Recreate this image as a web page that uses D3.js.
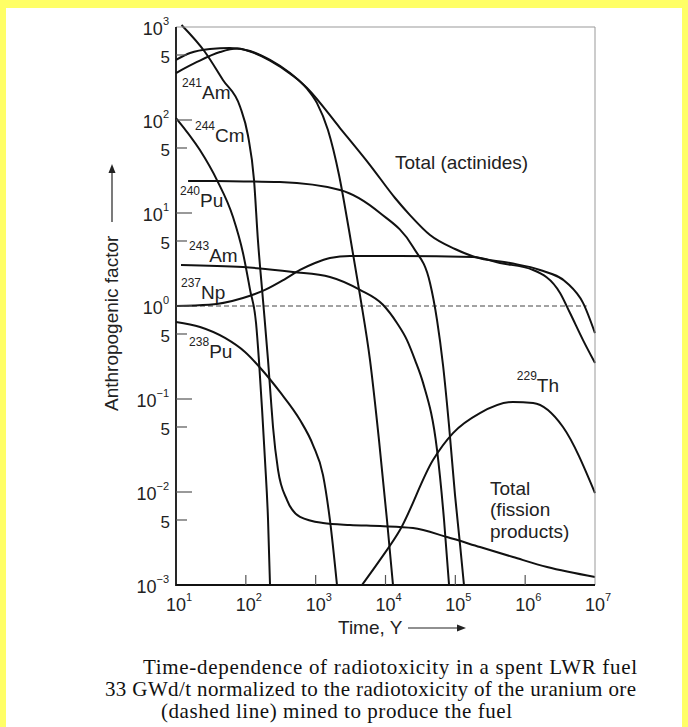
<!DOCTYPE html>
<html>
<head>
<meta charset="utf-8">
<script src="https://cdn.jsdelivr.net/npm/d3@7"></script>
<style>
html, body { margin: 0; padding: 0; background: #ffff66; }
svg { display: block; }
</style>
</head>
<body>
<svg width="688" height="727"></svg>
<script>
// curves: [time in years, anthropogenic factor]
var fissionTotal = [[12, 1050], [26, 538], [47, 269], [83, 138], [107, 69], [131, 22.6], [149, 5.1],
    [176, 1.16], [208, 0.26], [229, 0.097], [245, 0.05], [289, 0.0173], [389, 0.0082], [597, 0.0054],
    [1274, 0.00464], [3100, 0.00442], [8340, 0.0043], [24800, 0.0041], [76000, 0.00328],
    [225000, 0.00256], [670000, 0.002], [2.06e6, 0.00156], [1e7, 0.00122]];
var actinideTotal = [[10, 442], [15.9, 525], [30.7, 580], [59, 594], [115, 552], [222, 442], [430, 320],
    [752, 221], [2230, 82], [6000, 32.8], [13700, 14.5], [22400, 9.5], [43400, 5.8], [98900, 4.1],
    [191000, 3.36], [607000, 2.9], [1.63e6, 2.44], [3.97e6, 1.77], [6.74e6, 1.08], [1e7, 0.51]];
var am241 = [[10, 320], [20, 421], [42.7, 538], [75, 586], [115, 545], [222, 436], [430, 315],
    [752, 217], [1045, 152], [1500, 78], [2160, 25.6], [3000, 6.56], [4310, 1.31], [6000, 0.262],
    [8070, 0.0362], [10500, 0.005], [12800, 0.001]];
var cm244 = [[10, 105], [22, 47.5], [38.6, 22.6], [65.5, 9.06], [91, 3.72], [115, 1.49], [140, 0.656],
    [154, 0.262], [171, 0.076], [188, 0.0221], [208, 0.005], [222, 0.001]];
var pu240 = [[14.9, 22.1], [60, 22], [308, 21.5], [2230, 17.7], [8340, 10], [24800, 4.3], [43400, 1.77],
    [54700, 0.706], [66600, 0.232], [81100, 0.0525], [98900, 0.0093], [117000, 0.00269], [133000, 0.001]];
var am243 = [[11.8, 2.76], [91, 2.62], [474, 2.32], [1600, 2.05], [4310, 1.49], [9200, 1.03],
    [14600, 0.656], [20300, 0.43], [26500, 0.262], [34500, 0.149], [54700, 0.0283], [68900, 0.005],
    [81300, 0.001]];
var np237 = [[10, 1.0], [29.7, 1.03], [91, 1.22], [188, 1.49], [364, 1.95], [597, 2.44], [979, 2.9],
    [1600, 3.28], [3100, 3.45], [16100, 3.45], [179000, 3.36], [436000, 2.9], [1.3e6, 2.44],
    [3.16e6, 1.38], [4.39e6, 0.84], [6.74e6, 0.43], [1e7, 0.244]];
var pu238 = [[10, 0.673], [22.1, 0.594], [50.3, 0.453], [97.3, 0.32], [171, 0.205], [308, 0.119],
    [597, 0.0594], [916, 0.032], [1274, 0.0152], [1600, 0.005], [2020, 0.001]];
var th229 = [[4610, 0.001], [8340, 0.00186], [16100, 0.0039], [47900, 0.0221], [92600, 0.043],
    [225000, 0.0706], [670000, 0.093], [1.3e6, 0.0906], [3.48e6, 0.05], [1e7, 0.00975]];
var oreLevel = [[10, 1], [7.6e6, 1]];

var yDecades = [-3, -2, -1, 0, 1, 2, 3];
var yFives = [5e-3, 5e-2, 5e-1, 5, 50, 500];
var xDecades = [1, 2, 3, 4, 5, 6, 7];
var xTickValues = [1e2, 1e3, 1e4, 1e5, 1e6];

// annotation anchors in data space [time, value]
var isotopeLabels = [
    { mass: "241", name: "Am", at: [12.2, 168] },
    { mass: "244", name: "Cm", at: [18.7, 58] },
    { mass: "240", name: "Pu", at: [11.4, 11.6] },
    { mass: "243", name: "Am", at: [15.4, 2.97] },
    { mass: "237", name: "Np", at: [11.8, 1.19] },
    { mass: "238", name: "Pu", at: [15.4, 0.276] },
    { mass: "229", name: "Th", at: [7.6e5, 0.119] }
];
var actinideLabel = { text: "Total (actinides)", at: [13700, 29.7] };
var fissionLabel = { lines: ["Total", "(fission", "products)"], at: [314000, 0.0093] };
var captionLines = [
    "Time-dependence of radiotoxicity in a spent LWR fuel",
    "33 GWd/t normalized to the radiotoxicity of the uranium ore",
    "(dashed line) mined to produce the fuel"
];

var chart = (function() {
    'use strict';

    var svg = d3.select("svg");
    var x = d3.scaleLog().domain([1e1, 1e7]).range([176, 595]);
    var y = d3.scaleLog().domain([1e-3, 1e3]).range([585, 27]);
    var sans = "'Liberation Sans', Arial, sans-serif";

    var drawBackground = function() {
        svg.append("rect").attr("width", 688).attr("height", 727).attr("fill", "#ffff66");
        svg.append("rect").attr("x", 6).attr("y", 8).attr("width", 676).attr("height", 719)
            .attr("fill", "#fff");
    };

    var drawFrame = function() {
        var g = svg.append("g").attr("class", "frame");
        g.append("path")
            .attr("d", "M" + x(1e1) + "," + y(1e3) + "H" + x(1e7) + "V" + y(1e-3))
            .attr("fill", "none").attr("stroke", "#999").attr("stroke-width", 1);
        g.append("path")
            .attr("d", "M" + x(1e1) + "," + y(1e3) + "V" + y(1e-3) + "H" + x(1e7))
            .attr("fill", "none").attr("stroke", "#111").attr("stroke-width", 1.8);

        g.selectAll(".ymajor").data(yDecades.slice(1, -1)).enter().append("line")
            .attr("x1", x(1e1)).attr("x2", x(1e1) + 16)
            .attr("y1", function(d) { return y(Math.pow(10, d)); })
            .attr("y2", function(d) { return y(Math.pow(10, d)); })
            .attr("stroke", "#555").attr("stroke-width", 1.2);
        g.selectAll(".yminor").data(yFives).enter().append("line")
            .attr("x1", x(1e1)).attr("x2", x(1e1) + 11)
            .attr("y1", function(d) { return y(d); })
            .attr("y2", function(d) { return y(d); })
            .attr("stroke", "#555").attr("stroke-width", 1.2);
        g.selectAll(".xtick").data(xTickValues).enter().append("line")
            .attr("x1", function(d) { return x(d); })
            .attr("x2", function(d) { return x(d); })
            .attr("y1", y(1e-3)).attr("y2", y(1e-3) - 10)
            .attr("stroke", "#555").attr("stroke-width", 1.2);
    };

    var powerLabel = function(sel, exp) {
        sel.append("tspan").text("10");
        sel.append("tspan").attr("font-size", 11).attr("dy", -10)
            .text(exp < 0 ? "\u2212" + (-exp) : exp);
    };

    var drawTickLabels = function() {
        var g = svg.append("g").attr("font-family", sans).attr("font-size", 18).attr("fill", "#222");
        g.selectAll(".ylab").data(yDecades).enter().append("text")
            .attr("x", 169)
            .attr("y", function(d) { return y(Math.pow(10, d)) + 8; })
            .attr("text-anchor", "end")
            .each(function(d) { powerLabel(d3.select(this), d); });
        g.selectAll(".yfive").data(yFives).enter().append("text")
            .attr("x", 170)
            .attr("y", function(d) { return y(d) + 8; })
            .attr("text-anchor", "end")
            .attr("font-size", 17)
            .text("5");
        g.selectAll(".xlab").data(xDecades).enter().append("text")
            .attr("x", function(d) { return x(Math.pow(10, d)) - 10; })
            .attr("y", 611)
            .each(function(d) { powerLabel(d3.select(this), d); });
    };

    var drawAxisTitles = function() {
        var g = svg.append("g").attr("font-family", sans).attr("font-size", 19).attr("fill", "#222");
        g.append("text")
            .attr("transform", "translate(118,411) rotate(-90)")
            .text("Anthropogenic factor");
        g.append("text").attr("x", 338).attr("y", 634).text("Time, Y");

        g.append("line").attr("x1", 112).attr("x2", 112).attr("y1", 222).attr("y2", 170)
            .attr("stroke", "#222").attr("stroke-width", 1.2);
        g.append("path").attr("d", "M112,164L108.5,173L115.5,173Z").attr("fill", "#222");
        g.append("line").attr("x1", 408).attr("x2", 459).attr("y1", 628).attr("y2", 628)
            .attr("stroke", "#222").attr("stroke-width", 1.2);
        g.append("path").attr("d", "M466,628L457,624.5L457,631.5Z").attr("fill", "#222");
    };

    var drawCurves = function() {
        var line = d3.line()
            .x(function(d) { return x(d[0]); })
            .y(function(d) { return y(d[1]); })
            .curve(d3.curveMonotoneX);

        svg.append("path").datum(oreLevel)
            .attr("d", d3.line().x(function(d) { return x(d[0]); }).y(function(d) { return y(d[1]); }))
            .attr("fill", "none").attr("stroke", "#444").attr("stroke-width", 1)
            .attr("stroke-dasharray", "5,3");

        svg.append("g").attr("class", "curves")
            .selectAll("path")
            .data([fissionTotal, actinideTotal, am241, cm244, pu240, am243, np237, pu238, th229])
            .enter().append("path")
                .attr("d", line)
                .attr("fill", "none")
                .attr("stroke", "#111")
                .attr("stroke-width", 2)
                .attr("stroke-linejoin", "round");
    };

    var drawAnnotations = function() {
        var g = svg.append("g").attr("font-family", sans).attr("fill", "#222");
        g.selectAll(".iso").data(isotopeLabels).enter().append("text")
            .attr("x", function(d) { return x(d.at[0]); })
            .attr("y", function(d) { return y(d.at[1]); })
            .each(function(d) {
                var t = d3.select(this);
                t.append("tspan").attr("font-size", 12).attr("dy", -12).text(d.mass);
                t.append("tspan").attr("font-size", 19).attr("dy", 12).text(d.name);
            });
        g.append("text").attr("font-size", 19)
            .attr("x", x(actinideLabel.at[0])).attr("y", y(actinideLabel.at[1]))
            .text(actinideLabel.text);
        g.selectAll(".fp").data(fissionLabel.lines).enter().append("text")
            .attr("font-size", 19)
            .attr("x", x(fissionLabel.at[0]))
            .attr("y", function(d, i) { return y(fissionLabel.at[1]) + i * 21.5; })
            .text(function(d) { return d; });
    };

    var drawCaption = function() {
        var starts = [143, 105, 161];
        var widths = [494, 531, 351];
        svg.append("g").attr("font-family", "'Liberation Serif', 'Times New Roman', serif")
            .attr("font-size", 21).attr("fill", "#111")
            .selectAll("text").data(captionLines).enter().append("text")
                .attr("x", function(d, i) { return starts[i]; })
                .attr("y", function(d, i) { return 674 + i * 22; })
                .attr("textLength", function(d, i) { return widths[i]; })
                .attr("lengthAdjust", "spacing")
                .text(function(d) { return d; });
    };

    drawBackground();
    drawCurves();
    drawFrame();
    drawTickLabels();
    drawAxisTitles();
    drawAnnotations();
    drawCaption();

    return { x: x, y: y };
}());
</script>
</body>
</html>
